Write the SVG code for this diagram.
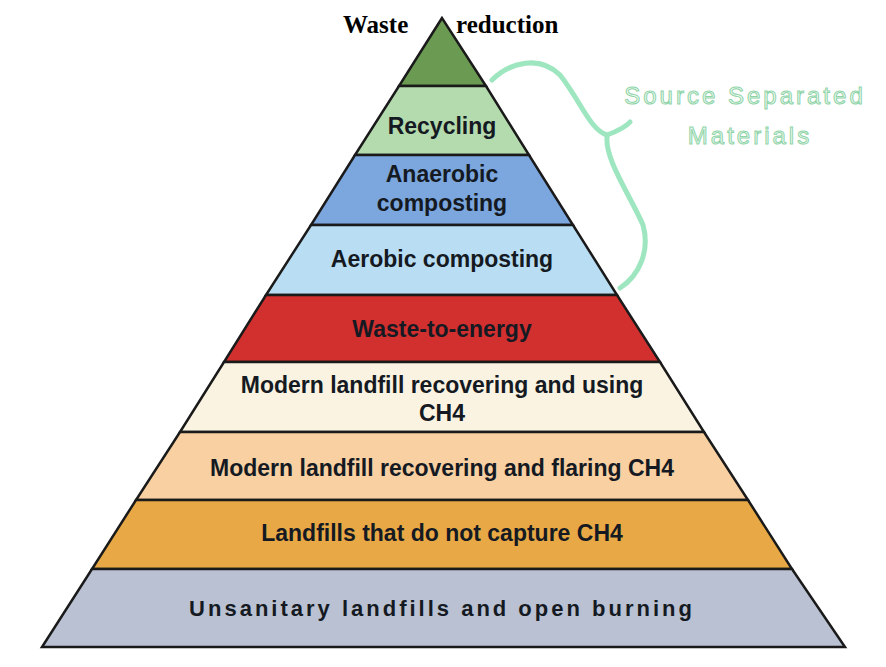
<svg xmlns="http://www.w3.org/2000/svg" width="886" height="667" viewBox="0 0 886 667">
<style>
.l{stroke:#1a1a1a;stroke-width:2.5}
.t{font-family:"Liberation Sans",Arial,sans-serif;font-weight:bold;font-size:23px;fill:#151a22;text-anchor:middle}
.s{font-family:"Liberation Sans",Arial,sans-serif;font-size:24px;fill:#eefaf2;stroke:#8fd4a8;stroke-width:1;letter-spacing:3px;text-anchor:middle}
.h{font-family:"Liberation Serif",serif;font-weight:bold;font-size:25px;fill:#000}
</style>
<rect width="886" height="667" fill="#fff"/>
<g id="apex"><polygon class="l" points="442,18 399,86 486,86" fill="#6b9a52"/></g>
<g id="recycling"><polygon class="l" points="399,86 486,86 529,155 355,155" fill="#b4dbae"/><text class="t" x="442" y="134">Recycling</text></g>
<g id="anaerobic"><polygon class="l" points="355,155 529,155 573,225 311,225" fill="#7ba6de"/><text class="t" x="442" y="182">Anaerobic</text><text class="t" x="442" y="211">composting</text></g>
<g id="aerobic"><polygon class="l" points="311,225 573,225 617,295 266,295" fill="#b9def3"/><text class="t" x="442" y="267">Aerobic composting</text></g>
<g id="wte"><polygon class="l" points="266,295 617,295 660,362 224,362" fill="#d22f2f"/><text class="t" x="442" y="337">Waste-to-energy</text></g>
<g id="modern-using"><polygon class="l" points="224,362 660,362 704,432 180,432" fill="#faf3e2"/><text class="t" x="442" y="393">Modern landfill recovering and using</text><text class="t" x="442" y="421">CH4</text></g>
<g id="modern-flaring"><polygon class="l" points="180,432 704,432 748,500 136,500" fill="#f8d0a2"/><text class="t" x="442" y="476">Modern landfill recovering and flaring CH4</text></g>
<g id="landfills"><polygon class="l" points="136,500 748,500 792,569 92,569" fill="#e8a845"/><text class="t" x="442" y="541">Landfills that do not capture CH4</text></g>
<g id="unsanitary"><polygon class="l" points="92,569 792,569 845,647 42,647" fill="#b9c1d2"/><text class="t" x="442" y="616" style="font-size:22px;letter-spacing:3px">Unsanitary landfills and open burning</text></g>
<g id="title"><text class="h" x="343" y="33">Waste</text><text class="h" x="456" y="33">reduction</text></g>
<g id="connectors"><path d="M492,80 C510,62 540,55 560,75 C580,100 590,130 607,135 M607,135 C615,132 625,128 630,122 M607,137 C605,160 630,195 643,225 C650,250 640,275 620,288" fill="none" stroke="#9ee6bf" stroke-width="5" stroke-linecap="round"/></g>
<g id="label"><text class="s" x="745" y="104">Source Separated</text><text class="s" x="750" y="144">Materials</text></g>
</svg>
